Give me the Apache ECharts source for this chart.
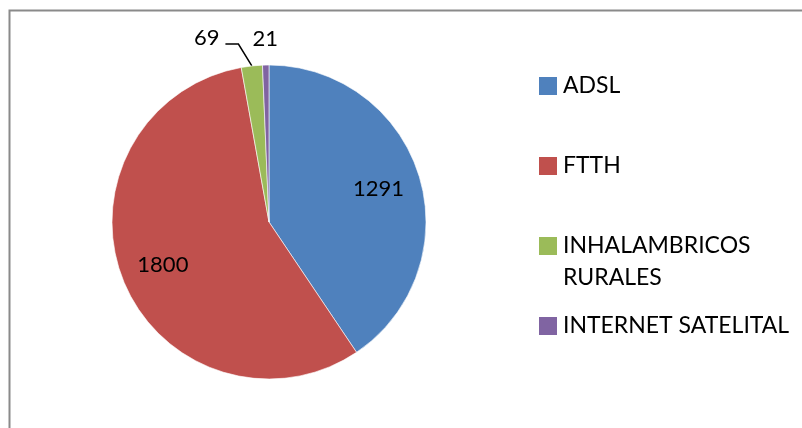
<!DOCTYPE html>
<html>
<head>
<meta charset="utf-8">
<script src="https://cdn.jsdelivr.net/npm/echarts@6/dist/echarts.min.js"></script>
<style>
  html, body { margin: 0; padding: 0; background: #fff; }
  #main { width: 802px; height: 428px; }
</style>
</head>
<body>
<div id="main"></div>
<script>
// data
const categories = ['ADSL', 'FTTH', 'INHALAMBRICOS RURALES', 'INTERNET SATELITAL'];
// leading blank line keeps the swatch on the first line of the wrapped entry
const legendLabels = ['ADSL', 'FTTH', '\nINHALAMBRICOS\nRURALES', 'INTERNET SATELITAL'];
const values = [1291, 1800, 69, 21];
const colors = ['#4F81BD', '#C0504D', '#9BBB59', '#8064A2'];

const FONT = 'Lato';
const chart = echarts.init(document.getElementById('main'));

// one legend per entry so each can sit where the reference has it
const legendTops = [70, 150, 198, 310];
const legends = categories.map((name, i) => ({
  data: [{ name: name, itemStyle: { color: colors[i] } }],
  left: 537,
  top: legendTops[i],
  padding: 0,
  icon: 'rect',
  itemWidth: 20,
  itemHeight: 20,
  selectedMode: false,
  formatter: () => legendLabels[i],
  textStyle: {
    color: '#000',
    fontFamily: FONT,
    fontSize: 23,
    lineHeight: 32
  }
}));

const option = {
  animation: false,
  backgroundColor: '#fff',
  color: colors,
  legend: legends,
  graphic: [{
    type: 'rect',
    shape: { x: 9.5, y: 10.5, width: 900, height: 500 },
    style: { fill: 'none', stroke: '#8a8a8a', lineWidth: 2 },
    silent: true
  }],
  series: [
    {
      type: 'pie',
      center: [269, 222],
      radius: 157,
      startAngle: 90,
      clockwise: true,
      avoidLabelOverlap: false,
      emphasis: { disabled: true },
      itemStyle: { borderColor: '#fff', borderWidth: 0.6 },
      label: {
        position: 'outside',
        formatter: '{c}',
        color: '#000',
        fontFamily: FONT,
        fontSize: 22,
        distanceToLabelLine: 0
      },
      labelLine: {
        length: 22,
        length2: 18,
        lineStyle: { color: '#000', width: 1.5 }
      },
      // Excel-like placement of the two tiny slices' labels
      labelLayout: function (params) {
        if (params.dataIndex === 2 && params.labelLinePoints) {
          const p = params.labelLinePoints;
          const bend = [p[1][0] - 11, p[1][1]];
          const end = [bend[0] - 13, bend[1]];
          return {
            labelLinePoints: [p[0], bend, end],
            x: end[0] - 6,
            y: end[1] - 6,
            align: 'right',
            verticalAlign: 'middle'
          };
        }
        if (params.dataIndex === 3) {
          // centre the label over its slice
          return { dx: params.labelRect.width / 2 };
        }
      },
      data: categories.map((name, i) => ({
        name: name,
        value: values[i],
        label: { show: i >= 2 },
        labelLine: i === 3 ? { show: false, length: 26, length2: 0 } : { show: i === 2 }
      }))
    },
    {
      // transparent ring that only carries the inner labels of the big slices
      type: 'pie',
      center: [269, 222],
      radius: [66, 157],
      startAngle: 90,
      clockwise: true,
      silent: true,
      emphasis: { disabled: true },
      z: 3,
      itemStyle: { color: 'rgba(0,0,0,0)', borderWidth: 0 },
      label: {
        position: 'inside',
        formatter: '{c}',
        color: '#000',
        fontFamily: FONT,
        fontSize: 22
      },
      labelLine: { show: false },
      data: categories.map((name, i) => ({
        name: name,
        value: values[i],
        label: { show: i < 2 }
      }))
    }
  ]
};

chart.setOption(option);
</script>
</body>
</html>
